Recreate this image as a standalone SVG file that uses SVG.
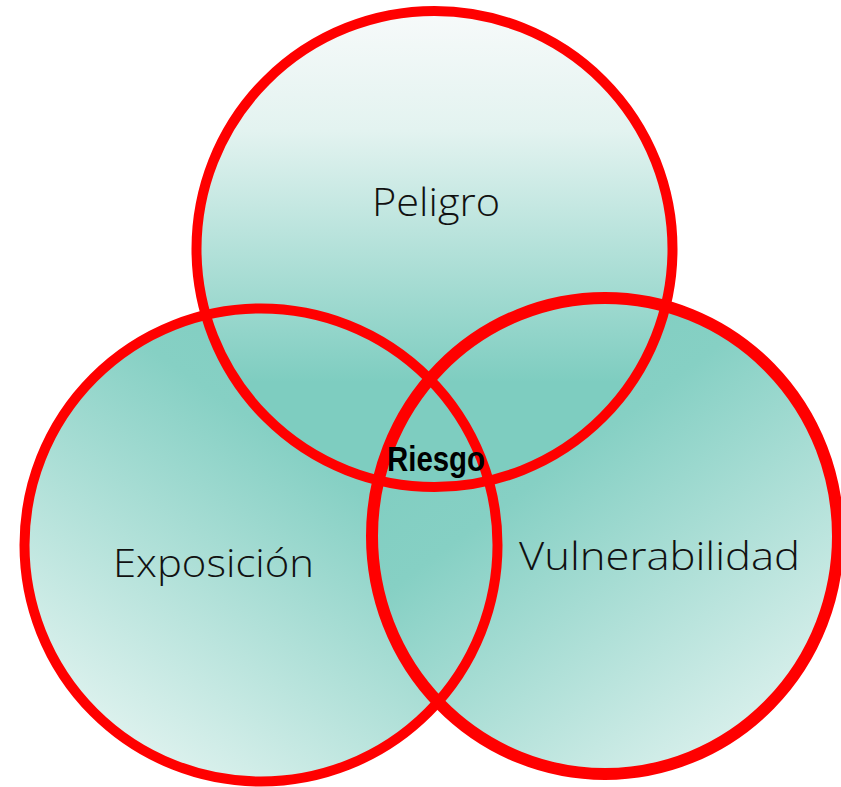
<svg xmlns="http://www.w3.org/2000/svg" width="841" height="787" viewBox="0 0 841 787">
  <style>
    .ring { fill: none; stroke: #FF0000; }
    .lbl { font-family: "Open Sans", "DejaVu Sans", sans-serif; font-weight: 300; font-size: 38px; fill: #111111; }
    .core { font-family: "Liberation Sans", Arial, sans-serif; font-weight: bold; font-size: 35px; fill: #000000; }
  </style>
  <defs>
    <linearGradient id="gTop" gradientUnits="userSpaceOnUse" x1="0" y1="11" x2="0" y2="487">
      <stop offset="0" stop-color="#F7FAFA"/>
      <stop offset="0.25" stop-color="#E3F3F0"/>
      <stop offset="0.78" stop-color="#7ECDC0"/>
      <stop offset="1" stop-color="#7ECDC0"/>
    </linearGradient>
    <linearGradient id="gLeft" gradientUnits="userSpaceOnUse" x1="420" y1="340" x2="120" y2="780">
      <stop offset="0" stop-color="#7ECDC0"/>
      <stop offset="0.3" stop-color="#86D0C4"/>
      <stop offset="1" stop-color="#E6F5F2"/>
    </linearGradient>
    <linearGradient id="gRight" gradientUnits="userSpaceOnUse" x1="470" y1="330" x2="790" y2="760">
      <stop offset="0" stop-color="#7ECDC0"/>
      <stop offset="0.3" stop-color="#86D0C4"/>
      <stop offset="1" stop-color="#E4F4F1"/>
    </linearGradient>
  </defs>

  <g id="exposicion">
    <circle cx="261" cy="545" r="236.5" fill="url(#gLeft)"/>
    <text class="lbl" x="113" y="577" textLength="201" lengthAdjust="spacingAndGlyphs">Exposición</text>
  </g>
  <g id="vulnerabilidad">
    <ellipse cx="605" cy="536" rx="233" ry="238" fill="url(#gRight)"/>
    <text class="lbl" x="519" y="570" textLength="281" lengthAdjust="spacingAndGlyphs">Vulnerabilidad</text>
  </g>
  <g id="peligro">
    <circle cx="434.5" cy="249" r="238" fill="url(#gTop)"/>
    <text class="lbl" x="372" y="216" textLength="128" lengthAdjust="spacingAndGlyphs">Peligro</text>
  </g>

  <g id="outlines">
    <circle class="ring" cx="261" cy="545" r="236.5" stroke-width="10"/>
    <ellipse class="ring" cx="605" cy="536" rx="233" ry="238" stroke-width="12"/>
    <circle class="ring" cx="434.5" cy="249" r="238" stroke-width="10"/>
  </g>

  <g id="riesgo">
    <text class="core" x="387" y="471" textLength="98" lengthAdjust="spacingAndGlyphs">Riesgo</text>
  </g>
</svg>
